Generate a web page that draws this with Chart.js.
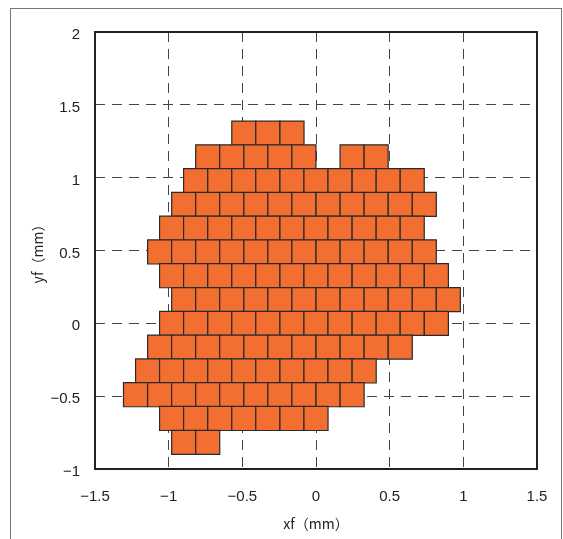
<!DOCTYPE html>
<html>
<head>
<meta charset="utf-8">
<script src="https://cdn.jsdelivr.net/npm/chart.js@4.4.1/dist/chart.umd.min.js"></script>
<style>
  body { margin: 0; background: #fff; }
  canvas { display: block; }
</style>
</head>
<body>
<canvas id="grafico" width="563" height="539"></canvas>
<script>
// Tamaño de cada celda (mm)
const PITCH = 0.1633;

// Ticks de los ejes
const xTicks = [-1.5, -1, -0.5, 0, 0.5, 1, 1.5];
const yTicks = [-1, -0.5, 0, 0.5, 1, 1.5, 2];

// Centro vertical de cada fila (mm)
const rowY = [1.306, 1.143, 0.980, 0.817, 0.653, 0.490, 0.327, 0.163, 0, -0.163, -0.327, -0.490, -0.653, -0.817];

// Centros horizontales de las celdas de cada fila (mm)
const rowX = [
  [-0.490, -0.327, -0.163],
  [-0.735, -0.572, -0.408, -0.245, -0.082, 0.245, 0.408],
  [-0.817, -0.653, -0.490, -0.327, -0.163, 0, 0.163, 0.327, 0.490, 0.653],
  [-0.898, -0.735, -0.572, -0.408, -0.245, -0.082, 0.082, 0.245, 0.408, 0.572, 0.735],
  [-0.980, -0.817, -0.653, -0.490, -0.327, -0.163, 0, 0.163, 0.327, 0.490, 0.653],
  [-1.061, -0.898, -0.735, -0.572, -0.408, -0.245, -0.082, 0.082, 0.245, 0.408, 0.572, 0.735],
  [-0.980, -0.817, -0.653, -0.490, -0.327, -0.163, 0, 0.163, 0.327, 0.490, 0.653, 0.817],
  [-0.898, -0.735, -0.572, -0.408, -0.245, -0.082, 0.082, 0.245, 0.408, 0.572, 0.735, 0.898],
  [-0.980, -0.817, -0.653, -0.490, -0.327, -0.163, 0, 0.163, 0.327, 0.490, 0.653, 0.817],
  [-1.061, -0.898, -0.735, -0.572, -0.408, -0.245, -0.082, 0.082, 0.245, 0.408, 0.572],
  [-1.143, -0.980, -0.817, -0.653, -0.490, -0.327, -0.163, 0, 0.163, 0.327],
  [-1.225, -1.061, -0.898, -0.735, -0.572, -0.408, -0.245, -0.082, 0.082, 0.245],
  [-0.980, -0.817, -0.653, -0.490, -0.327, -0.163, 0],
  [-0.898, -0.735]
];

const puntos = [];
rowX.forEach((fila, i) => fila.forEach(x => puntos.push({ x: x, y: rowY[i] })));

const fmt = v => String(v).replace('-', '\u2212');

// Marco exterior y borde del área del gráfico
const marco = {
  id: 'marco',
  beforeDraw(chart) {
    const c = chart.ctx;
    c.save();
    c.strokeStyle = '#777';
    c.lineWidth = 1;
    c.strokeRect(10.5, 8.5, 551, 700);
    c.restore();
  },
  afterDraw(chart) {
    const a = chart.chartArea;
    const c = chart.ctx;
    c.save();
    c.strokeStyle = '#222';
    c.lineWidth = 2;
    c.strokeRect(a.left, a.top, a.right - a.left, a.bottom - a.top);
    c.restore();
  }
};

new Chart(document.getElementById('grafico'), {
  type: 'scatter',
  data: {
    datasets: [{
      data: puntos,
      pointStyle: 'rect',
      backgroundColor: '#F26E31',
      borderColor: '#2a2a2a',
      borderWidth: 1.2,
      radius: ctx => {
        const s = ctx.chart.scales.x;
        if (!s) return 17;
        return Math.abs(s.getPixelForValue(PITCH) - s.getPixelForValue(0)) / 2 * Math.SQRT2;
      },
      hoverRadius: 0
    }]
  },
  options: {
    responsive: false,
    animation: false,
    events: [],
    layout: { padding: { left: 0, top: 32, right: 26, bottom: 0 } },
    plugins: { legend: { display: false }, tooltip: { enabled: false } },
    scales: {
      x: {
        type: 'linear',
        min: -1.5, max: 1.5,
        afterBuildTicks: s => { s.ticks = xTicks.map(v => ({ value: v })); },
        afterFit: s => { s.height = 70; s.paddingLeft = 0; s.paddingRight = 0; },
        ticks: { callback: v => fmt(v), color: '#222', padding: 19, font: { family: 'Liberation Sans', size: 15 } },
        grid: { color: '#444', lineWidth: 1, drawTicks: false },
        border: { display: false, dash: [10, 7] },
        title: { display: true, text: 'xf（mm）', color: '#222', padding: { top: 0, bottom: 7 }, font: { family: 'Noto Sans CJK JP', size: 14 } }
      },
      y: {
        type: 'linear',
        min: -1, max: 2,
        afterBuildTicks: s => { s.ticks = yTicks.map(v => ({ value: v })); },
        afterFit: s => { s.width = 95; s.paddingTop = 0; s.paddingBottom = 0; },
        ticks: { callback: v => fmt(v), color: '#222', padding: 15, labelOffset: 3, font: { family: 'Liberation Sans', size: 15 } },
        grid: { color: '#444', lineWidth: 1, drawTicks: false },
        border: { display: false, dash: [10, 7] },
        title: { display: true, text: 'yf（mm）', color: '#222', padding: { top: 29, bottom: 0 }, font: { family: 'Noto Sans CJK JP', size: 14 } }
      }
    }
  },
  plugins: [marco]
});
</script>
</body>
</html>
